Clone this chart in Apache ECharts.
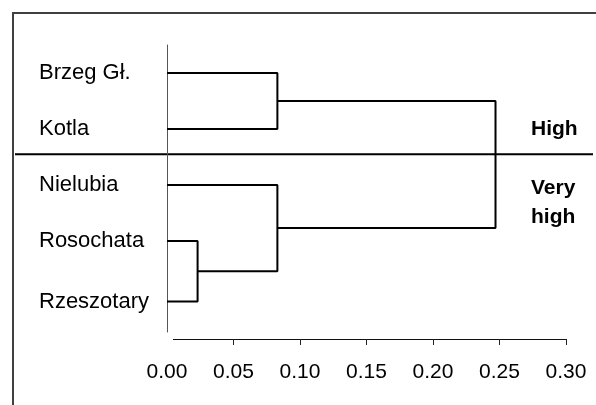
<!DOCTYPE html>
<html>
<head>
<meta charset="utf-8">
<script src="https://cdn.jsdelivr.net/npm/echarts@6/dist/echarts.min.js"></script>
<style>
html,body{margin:0;padding:0;background:#fff;}
#c{width:596px;height:405px;}
</style>
</head>
<body>
<div id="c"></div>
<script>
// ---- data ----
const leaves = ['Brzeg Gł.', 'Kotla', 'Nielubia', 'Rosochata', 'Rzeszotary'];
const leafPos = [0, 1, 2, 3, 4.08];
// merges in order: M1..M4
const mergeNames = ['M1', 'M2', 'M3', 'M4'];
const mergeLeft = ['Rosochata', 'Brzeg Gł.', 'Nielubia', 'M2'];
const mergeRight = ['Rzeszotary', 'Kotla', 'M1', 'M3'];
const mergeHeight = [0.023, 0.083, 0.083, 0.247];
const xTickValues = [0.05, 0.10, 0.15, 0.20, 0.25, 0.30];
const groupBoundary = 1.45;
const groupLabels = ['High', 'Very\nhigh'];

// ---- build ----
const nodes = {};
leaves.forEach((n, i) => { nodes[n] = { x: 0, y: leafPos[i] }; });
const series = [];
mergeNames.forEach((m, k) => {
  const a = nodes[mergeLeft[k]], b = nodes[mergeRight[k]], h = mergeHeight[k];
  nodes[m] = { x: h, y: (a.y + b.y) / 2 };
  series.push({
    type: 'line',
    data: [[a.x, a.y], [h, a.y], [h, b.y], [b.x, b.y]],
    showSymbol: false,
    symbol: 'none',
    silent: true,
    animation: false,
    lineStyle: { color: '#000', width: 2 }
  });
});

const chart = echarts.init(document.getElementById('c'));
const FONT = '"Liberation Sans", Arial, sans-serif';
chart.setOption({
  animation: false,
  backgroundColor: '#fff',
  grid: { left: 167, right: 30, top: 45, height: 287 },
  xAxis: {
    type: 'value',
    position: 'bottom',
    min: 0, max: 0.3, interval: 0.05,
    offset: 7,
    axisLine: { show: false, onZero: false },
    axisTick: { show: true, length: 6, customValues: xTickValues, lineStyle: { color: '#222' } },
    splitLine: { show: false },
    axisLabel: {
      formatter: v => v.toFixed(2),
      fontSize: 21, fontFamily: FONT, color: '#000', margin: 23
    }
  },
  yAxis: {
    type: 'value',
    inverse: true,
    min: -0.5, max: 4.625,
    axisLine: { show: true, onZero: false, lineStyle: { color: '#555', width: 1 } },
    axisTick: { show: false },
    splitLine: { show: false },
    axisLabel: {
      customValues: leafPos,
      formatter: v => {
        const i = leafPos.findIndex(p => Math.abs(p - v) < 1e-6);
        return i >= 0 ? leaves[i] : '';
      },
      align: 'left', margin: 128,
      fontSize: 22, fontFamily: FONT, color: '#000',
      padding: [0, 0, 4, 0]
    }
  },
  series: series
});

const divY = chart.convertToPixel({ gridIndex: 0 }, [0, groupBoundary])[1];
const highY = chart.convertToPixel({ gridIndex: 0 }, [0, leafPos[1]])[1];
const x0 = chart.convertToPixel({ gridIndex: 0 }, [0, 0])[0];
const x1 = chart.convertToPixel({ gridIndex: 0 }, [0.3, 0])[0];
const axisBottom = chart.convertToPixel({ gridIndex: 0 }, [0, 4.625])[1] + 7;
chart.setOption({
  graphic: [
    { type: 'rect', shape: { x: 13, y: 13, width: 620, height: 420 },
      style: { fill: 'none', stroke: '#404040', lineWidth: 2 }, silent: true },
    { type: 'line', shape: { x1: 15, y1: divY, x2: 593, y2: divY },
      style: { stroke: '#000', lineWidth: 2 }, silent: true },
    { type: 'line', shape: { x1: x0 + 6, y1: axisBottom + 0.5, x2: x1 + 0.5, y2: axisBottom + 0.5 },
      style: { stroke: '#111', lineWidth: 1 }, silent: true },
    { type: 'text', x: 531, y: highY, silent: true,
      style: { text: groupLabels[0], fontSize: 21, fontWeight: 'bold', fontFamily: FONT,
               fill: '#000', verticalAlign: 'middle', align: 'left' } },
    { type: 'text', x: 531, y: divY + 20, silent: true,
      style: { text: groupLabels[1], fontSize: 21, fontWeight: 'bold', fontFamily: FONT,
               fill: '#000', verticalAlign: 'top', align: 'left', lineHeight: 29 } }
  ]
});
</script>
</body>
</html>
